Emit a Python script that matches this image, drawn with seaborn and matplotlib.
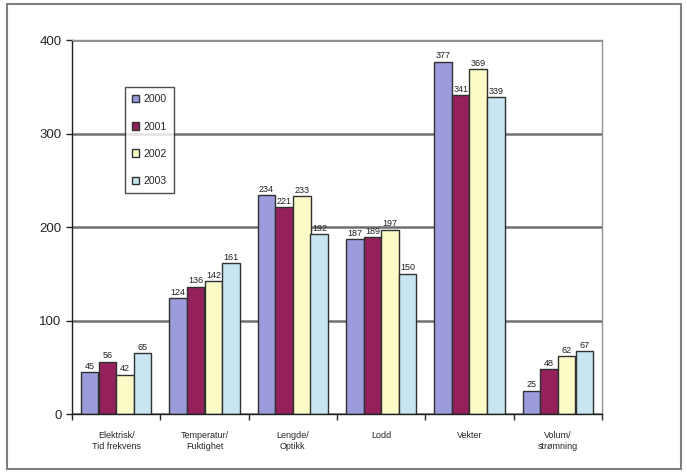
import matplotlib
matplotlib.use("Agg")
import matplotlib.pyplot as plt
import seaborn as sns
import pandas as pd
from matplotlib.patches import Rectangle

categories = ["Elektrisk/\nTid frekvens", "Temperatur/\nFuktighet", "Lengde/\nOptikk",
              "Lodd", "Vekter", "Volum/\nstrømning"]
years = ["2000", "2001", "2002", "2003"]
v2000 = [45, 124, 234, 187, 377, 25]
v2001 = [56, 136, 221, 189, 341, 48]
v2002 = [42, 142, 233, 197, 369, 62]
v2003 = [65, 161, 192, 150, 339, 67]
colors = ["#9c9cdc", "#94205c", "#fbfbc8", "#c8e6f2"]

rows = []
for yr, vals in zip(years, [v2000, v2001, v2002, v2003]):
    for c, v in zip(categories, vals):
        rows.append({"kategori": c, "år": yr, "antall": v})
df = pd.DataFrame(rows)

sns.set_style("white")
plt.rcParams["font.family"] = ["Liberation Sans", "DejaVu Sans"]

fig = plt.figure(figsize=(6.87, 4.73), dpi=100)
ax = fig.add_axes([72/687, 59/473, 530/687, 374/473])

sns.barplot(data=df, x="kategori", y="antall", hue="år", palette=colors,
            order=categories, hue_order=years, width=0.8, gap=0, saturation=1,
            edgecolor="#303030", linewidth=1.0, ax=ax, legend=True)

for cont in ax.containers:
    ax.bar_label(cont, fmt="%d", fontsize=6.5, padding=1, color="#202020")

ax.set_ylim(0, 400)
ax.set_xlim(-0.5, len(categories) - 0.5)
ax.set_yticks([0, 100, 200, 300, 400])
ax.tick_params(axis="y", labelsize=9.5, length=4, direction="out", left=True, width=1)
ax.set_xticks(range(len(categories)))
ax.set_xticklabels(categories, fontsize=6.5, linespacing=1.3)
ax.set_xticks([i - 0.5 for i in range(len(categories) + 1)], minor=True)
ax.tick_params(axis="x", which="major", length=0, pad=12)
ax.tick_params(axis="x", which="minor", length=4, direction="out", bottom=True, width=1)
ax.set_xlabel("")
ax.set_ylabel("")

ax.set_axisbelow(True)
ax.yaxis.grid(True, color="#707070", linewidth=1.8)
for s in ["left", "bottom"]:
    ax.spines[s].set_color("#202020")
    ax.spines[s].set_linewidth(1.0)
for s in ["top", "right"]:
    ax.spines[s].set_color("#909090")
    ax.spines[s].set_linewidth(1.0)

leg = ax.legend(loc="upper left", bbox_to_anchor=(0.09, 0.888), frameon=True,
                fontsize=7.5, labelspacing=1.65, handlelength=0.7, handleheight=0.7,
                handletextpad=0.4, borderpad=0.7, fancybox=False)
leg.get_frame().set_edgecolor("#202020")
leg.get_frame().set_linewidth(1.0)

fig.patches.append(Rectangle((7/687, 4/473), 674/687, 465/473, transform=fig.transFigure,
                             fill=False, edgecolor="#808080", linewidth=1.5))

fig.savefig("out.png", dpi=100)
